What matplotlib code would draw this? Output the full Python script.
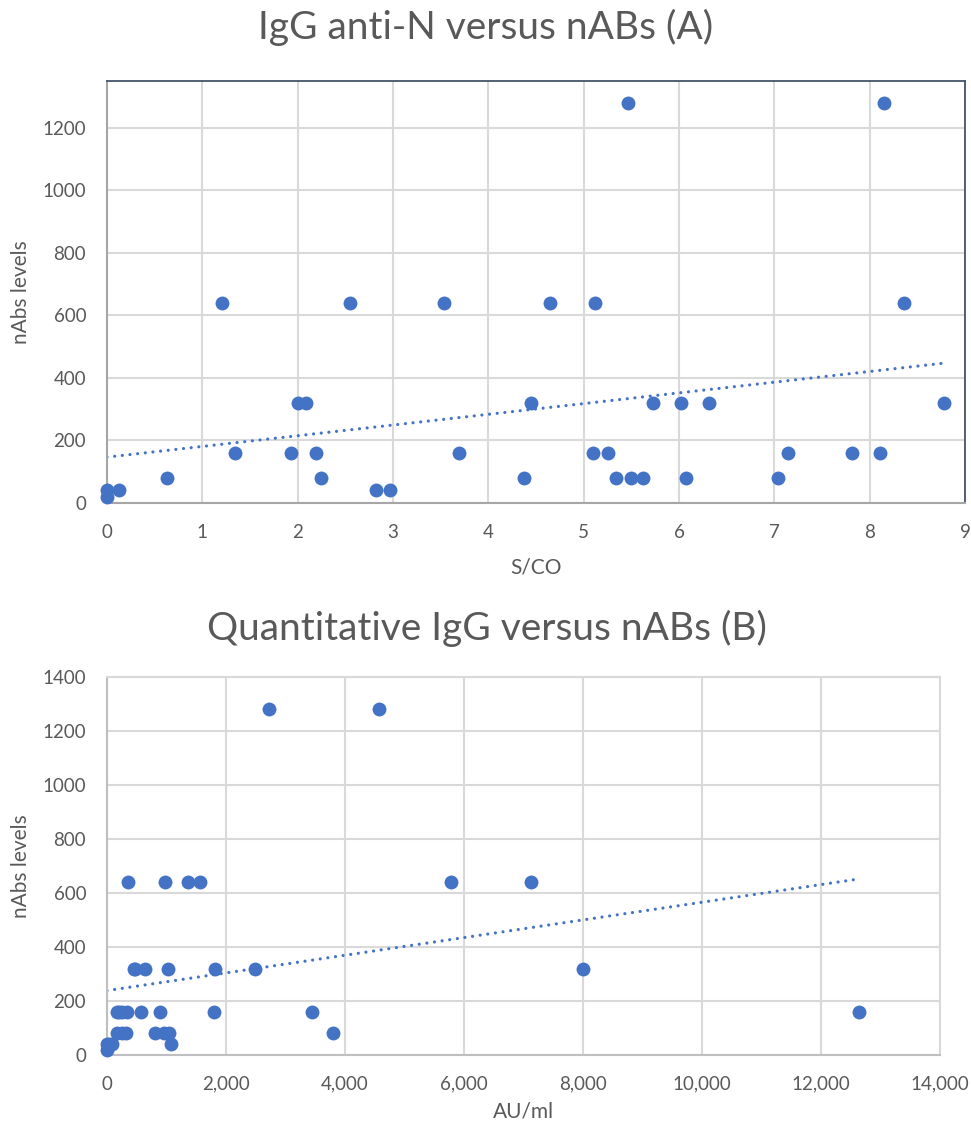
import numpy as np
import matplotlib
matplotlib.use("Agg")
import matplotlib.pyplot as plt

plt.rcParams['font.family'] = ['Lato', 'DejaVu Sans']

# Chart A: IgG anti-N (S/CO) vs nABs
a_x = [0, 0, 0.13, 0.63, 1.21, 1.34, 1.93, 2.0, 2.09, 2.19, 2.24, 2.55, 2.82, 2.97,
       3.54, 3.69, 4.37, 4.45, 4.65, 5.10, 5.12, 5.26, 5.34, 5.47, 5.50, 5.62, 5.73,
       6.02, 6.07, 6.31, 7.04, 7.14, 7.81, 8.11, 8.15, 8.36, 8.78]
a_y = [40, 20, 40, 80, 640, 160, 160, 320, 320, 160, 80, 640, 40, 40,
       640, 160, 80, 320, 640, 160, 640, 160, 80, 1280, 80, 80, 320,
       320, 80, 320, 80, 160, 160, 160, 1280, 640, 320]

# Chart B: Quantitative IgG (AU/ml) vs nABs
b_x = [2723, 4571, 346, 975, 1355, 1568, 5787, 7121,
       447, 470, 632, 1018, 1820, 2481, 8005,
       168, 200, 260, 336, 576, 896, 1792, 3450, 12636,
       168, 250, 319, 812, 951, 1047, 3803,
       0, 30, 84, 1081, 0]
b_y = [1280, 1280, 640, 640, 640, 640, 640, 640,
       320, 320, 320, 320, 320, 320, 320,
       160, 160, 160, 160, 160, 160, 160, 160, 160,
       80, 80, 80, 80, 80, 80, 80,
       40, 40, 40, 40, 20]

a_xticks = list(range(0, 10))
a_yticks = list(range(0, 1201, 200))
b_xticks = list(range(0, 14001, 2000))
b_xticklabels = ["0", "2,000", "4,000", "6,000", "8,000", "10,000", "12,000", "14,000"]
b_yticks = list(range(0, 1401, 200))

BLUE = '#4472C4'
GREY_TXT = '#595959'
GRID = '#D9D9D9'

W, H = 971, 1129
fig = plt.figure(figsize=(W / 100, H / 100), dpi=100)


def box(l, t, r, b):
    return [l / W, 1 - b / H, (r - l) / W, (b - t) / H]


def style(ax):
    ax.set_facecolor('white')
    ax.grid(True, color=GRID, linewidth=1.5)
    ax.set_axisbelow(True)
    ax.tick_params(axis='both', length=0, colors=GREY_TXT, labelsize=13.5, pad=15)
    for lab in ax.get_xticklabels() + ax.get_yticklabels():
        lab.set_color(GREY_TXT)


def trend(ax, x, y):
    x = np.asarray(x, float)
    y = np.asarray(y, float)
    k, c = np.polyfit(x, y, 1)
    xs = np.array([x.min(), x.max()])
    ax.plot(xs, k * xs + c, color=BLUE, linewidth=2.3, linestyle=(0, (0.01, 2.4)),
            dash_capstyle='round', zorder=2)


def scatter(ax, x, y):
    ax.scatter(x, y, s=100, color=BLUE, zorder=3, linewidths=0, clip_on=False)


# ---- Chart A ----
axA = fig.add_axes(box(107, 81, 965, 503))
scatter(axA, a_x, a_y)
trend(axA, a_x, a_y)
axA.set_xlim(0, 9)
axA.set_ylim(0, 1350)
axA.set_xticks(a_xticks)
axA.set_yticks(a_yticks)
style(axA)
for s in ['left', 'bottom']:
    axA.spines[s].set_color('#A6A6A6')
    axA.spines[s].set_linewidth(1.5)
for s in ['top', 'right']:
    axA.spines[s].set_color('#44546A')
    axA.spines[s].set_linewidth(1.3)
axA.set_xlabel('S/CO', color=GREY_TXT, fontsize=15, labelpad=12)
axA.set_ylabel('nAbs levels', color=GREY_TXT, fontsize=15, labelpad=8)
fig.text(486 / W, 1 - 27 / H, 'IgG anti-N versus nABs (A)', ha='center', va='center',
         fontsize=28, color=GREY_TXT)

# ---- Chart B ----
axB = fig.add_axes(box(107, 677, 940, 1055))
scatter(axB, b_x, b_y)
trend(axB, b_x, b_y)
axB.set_xlim(0, 14000)
axB.set_ylim(0, 1400)
axB.set_xticks(b_xticks)
axB.set_xticklabels(b_xticklabels)
axB.set_yticks(b_yticks)
style(axB)
for s in ['left', 'bottom', 'top', 'right']:
    axB.spines[s].set_color(GRID)
    axB.spines[s].set_linewidth(1.5)
axB.spines['left'].set_color('#BFBFBF')
axB.spines['bottom'].set_color('#BFBFBF')
axB.set_xlabel('AU/ml', color=GREY_TXT, fontsize=15, labelpad=6)
axB.set_ylabel('nAbs levels', color=GREY_TXT, fontsize=15, labelpad=8)
fig.text(487 / W, 1 - 628 / H, 'Quantitative IgG versus nABs (B)', ha='center', va='center',
         fontsize=28, color=GREY_TXT)

fig.savefig('out.png', dpi=100, facecolor='white')
